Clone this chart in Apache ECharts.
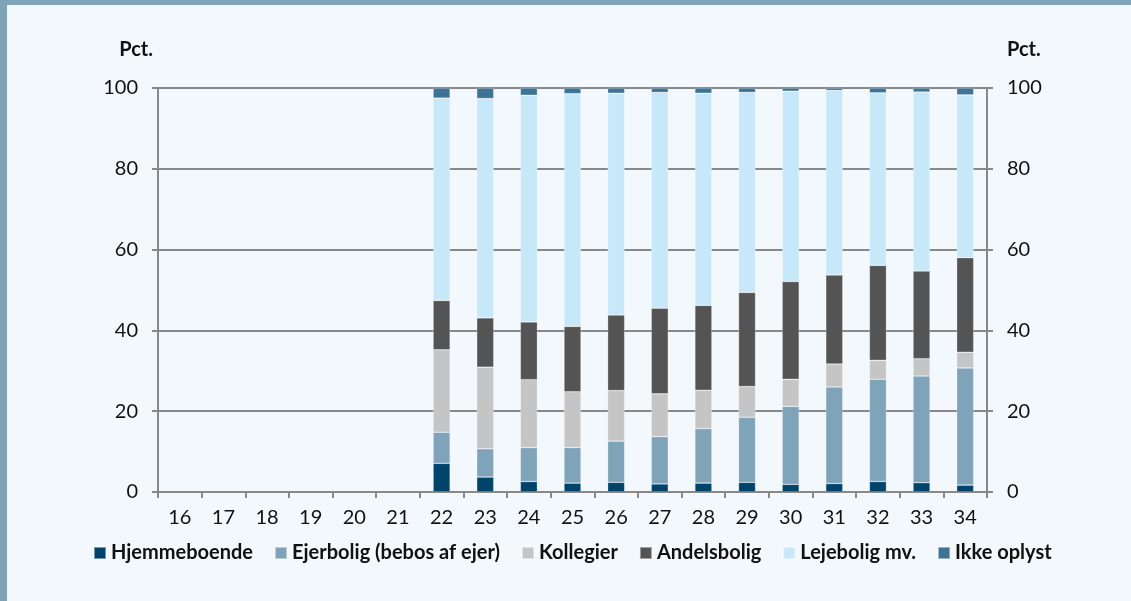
<!DOCTYPE html>
<html>
<head>
<meta charset="utf-8">
<script src="https://cdn.jsdelivr.net/npm/echarts@6/dist/echarts.min.js"></script>
<style>
  html, body { margin: 0; padding: 0; background: #f3f8fd; }
  #frame { position: absolute; left: 0; top: 0; width: 1131px; height: 601px; box-sizing: border-box;
    border-top: 5px solid #7fa3b8; border-left: 7px solid #7fa3b8; background: #f3f8fd; }
  #chart { position: absolute; left: 0; top: 0; width: 1131px; height: 601px; }
</style>
</head>
<body>
<div id="frame"></div>
<div id="chart"></div>
<script>
// alder
var ages = ['16', '17', '18', '19', '20', '21', '22', '23', '24', '25', '26', '27', '28', '29', '30', '31', '32', '33', '34']
var none = [null, null, null, null, null, null]
// pct. af hver aldersgruppe
var hjemmeboende = none.concat([7.1, 3.7, 2.6, 2.2, 2.4, 2.0, 2.2, 2.4, 1.9, 2.1, 2.6, 2.3, 1.7])
var ejerbolig = none.concat([7.7, 7.0, 8.4, 8.8, 10.2, 11.7, 13.5, 16.1, 19.3, 23.9, 25.3, 26.4, 29.0])
var kollegier = none.concat([20.4, 20.2, 16.8, 13.8, 12.5, 10.6, 9.5, 7.6, 6.7, 5.7, 4.7, 4.3, 3.9])
var andelsbolig = none.concat([12.2, 12.2, 14.3, 16.2, 18.7, 21.2, 21.0, 23.3, 24.2, 22.0, 23.5, 21.7, 23.4])
var lejebolig = none.concat([50.1, 54.3, 56.1, 57.6, 54.9, 53.4, 52.5, 49.5, 47.1, 45.7, 42.7, 44.3, 40.3])
var ikkeOplyst = none.concat([2.5, 2.6, 1.8, 1.4, 1.3, 1.1, 1.3, 1.1, 0.8, 0.6, 1.2, 1.0, 1.7])
var yTicks = [0, 20, 40, 60, 80, 100]

var names = ['Hjemmeboende', 'Ejerbolig (bebos af ejer)', 'Kollegier', 'Andelsbolig', 'Lejebolig mv.', 'Ikke oplyst']
var colors = ['#00446c', '#7fa3b8', '#c5c5c5', '#545454', '#c7e8f8', '#3f7396']
var values = [hjemmeboende, ejerbolig, kollegier, andelsbolig, lejebolig, ikkeOplyst]

var font = 'Lato'
var axisColor = '#888888'

function yAxis (pos) {
  return {
    type: 'value',
    position: pos,
    min: yTicks[0],
    max: yTicks[yTicks.length - 1],
    interval: 20,
    name: 'Pct.',
    nameLocation: 'end',
    nameGap: 28,
    nameTextStyle: {
      fontFamily: font,
      fontWeight: 'bold',
      fontSize: 20,
      color: '#111',
      align: pos === 'left' ? 'right' : 'left',
      padding: pos === 'left' ? [0, 5, 0, 0] : [0, 0, 0, 20]
    },
    axisLine: { show: true, lineStyle: { color: axisColor, width: 2 } },
    axisTick: { show: true, length: 6, lineStyle: { color: axisColor, width: 2 } },
    axisLabel: { fontFamily: font, fontSize: 20, color: '#111', margin: 20 },
    splitLine: { show: pos === 'left', lineStyle: { color: axisColor, width: 2 } }
  }
}

var myChart = echarts.init(document.getElementById('chart'), null, { renderer: 'canvas' })
var option = {
  backgroundColor: 'transparent',
  animation: false,
  grid: { left: 158, right: 144, top: 88, bottom: 109 },
  legend: {
    left: 88,
    top: 538,
    icon: 'rect',
    itemWidth: 12,
    itemHeight: 12,
    itemGap: 21,
    textStyle: { fontFamily: font, fontWeight: 'bold', fontSize: 20, color: '#111' },
    data: names
  },
  xAxis: {
    type: 'category',
    data: ages,
    boundaryGap: true,
    axisLine: { lineStyle: { color: axisColor, width: 2 } },
    axisTick: { show: true, length: 6, interval: 0, lineStyle: { color: axisColor, width: 2 } },
    axisLabel: { fontFamily: font, fontSize: 20, color: '#111', margin: 16, interval: 0 }
  },
  yAxis: [yAxis('left'), yAxis('right')],
  series: names.map(function (n, i) {
    return {
      name: n,
      type: 'bar',
      stack: 'total',
      barWidth: 17,
      data: values[i],
      itemStyle: { color: colors[i], borderColor: 'rgba(255,255,255,0.45)', borderWidth: 0.6 }
    }
  })
}
myChart.setOption(option)
window.onresize = myChart.resize
</script>
</body>
</html>
